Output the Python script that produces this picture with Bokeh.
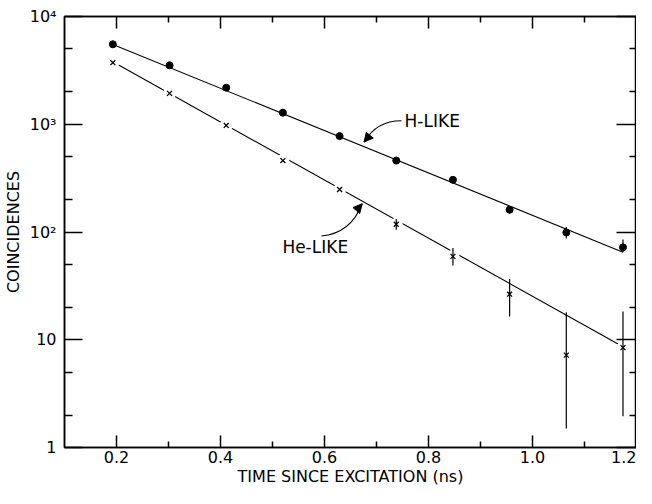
from bokeh.plotting import figure
from bokeh.models import Range1d, FixedTicker, LinearAxis, LogAxis, Arrow, NormalHead, Label
from bokeh.models.labeling import CustomLabelingPolicy
from bokeh.embed import file_html
from bokeh.resources import INLINE

# ---- data ----
time_ns = [0.193, 0.302, 0.411, 0.520, 0.629, 0.738, 0.847, 0.956, 1.065, 1.174]
h_like = [5520, 3525, 2185, 1280, 776, 460, 305, 161, 99, 72]
he_like = [3730, 1935, 975, 460, 248, 118, 59.4, 26.5, 7.2, 8.45]

h_err_t = [0.956, 1.065, 1.174]
h_err_lo = [148, 87, 65]
h_err_hi = [173, 111, 85]

he_err_t = [0.738, 0.847, 0.956, 1.065, 1.174]
he_err_lo = [105, 49, 16.4, 1.5, 1.95]
he_err_hi = [132, 71, 36.6, 18, 18.3]

fit_t = [0.193, 1.174]
h_fit = [5500, 65]
he_fit = [3800, 8.6]

x_ticks = [0.2, 0.4, 0.6, 0.8, 1.0, 1.2]
x_tick_labels = ["0.2", "0.4", "0.6", "0.8", "1.0", "1.2"]
x_minor = [0.3, 0.5, 0.7, 0.9, 1.1]
y_ticks = [1, 10, 100, 1000, 10000]
y_tick_labels = ["1", "10", "10²", "10³", "10⁴"]
y_minor = [2, 5, 20, 50, 200, 500, 2000, 5000]

x_title = "TIME SINCE EXCITATION (ns)"
y_title = "COINCIDENCES"

FONT = "DejaVu Sans"

p = figure(width=636, height=488, x_range=Range1d(0.1, 1.2), y_range=Range1d(1, 1e4),
           y_axis_type="log", output_backend="svg", toolbar_location=None,
           min_border_left=55, min_border_right=0, min_border_top=16, min_border_bottom=0)
p.grid.visible = False
p.outline_line_color = "black"
p.outline_line_width = 1.5
p.background_fill_color = "white"
p.border_fill_color = "white"

xa = p.xaxis[0]
xa.ticker = FixedTicker(ticks=x_ticks, minor_ticks=x_minor)
xa.major_label_overrides = dict(zip(x_ticks, x_tick_labels))
xa.axis_label = x_title
ya = p.yaxis[0]
ya.ticker = FixedTicker(ticks=y_ticks, minor_ticks=y_minor)
ya.major_label_overrides = dict(zip(y_ticks, y_tick_labels))
ya.axis_label = y_title

for ax, mj, mn in ((xa, 12, 6), (ya, 18, 8)):
    ax.major_tick_in = mj
    ax.major_tick_out = 0
    ax.minor_tick_in = mn
    ax.minor_tick_out = 0
    ax.major_tick_line_width = 1.5
    ax.minor_tick_line_width = 1.5
    ax.axis_line_width = 1.5
    ax.major_label_text_font = FONT
    ax.major_label_text_font_size = "16px"
    ax.major_label_text_color = "black"
    ax.axis_label_text_font = FONT
    ax.axis_label_text_font_size = "16px"
    ax.axis_label_text_font_style = "normal"
    ax.axis_label_text_color = "black"
xa.major_label_standoff = 3
xa.axis_label_standoff = 1
ya.major_label_standoff = 8
ya.axis_label_standoff = 4

hide_all = "for (let i = 0; i < indices.size; i++) { indices.set(i, false) }\nreturn indices"

top = LinearAxis(ticker=FixedTicker(ticks=x_ticks, minor_ticks=x_minor),
                 major_tick_in=12, major_tick_out=0, minor_tick_in=6, minor_tick_out=0,
                 major_tick_line_width=1.5, minor_tick_line_width=1.5, axis_line_width=1.5,
                 major_label_text_font_size="1px", major_label_text_color=None,
                 major_label_standoff=0,
                 major_label_policy=CustomLabelingPolicy(code=hide_all))
right = LogAxis(ticker=FixedTicker(ticks=y_ticks, minor_ticks=y_minor),
                major_tick_in=20, major_tick_out=0, minor_tick_in=7, minor_tick_out=0,
                major_tick_line_width=1.5, minor_tick_line_width=1.5, axis_line_width=1.5,
                major_label_text_font_size="1px", major_label_text_color=None,
                major_label_standoff=-4,
                major_label_policy=CustomLabelingPolicy(code=hide_all))
p.add_layout(top, "above")
p.add_layout(right, "right")

# fitted lines
p.line(fit_t, h_fit, line_color="black", line_width=1.1)
p.line(fit_t, he_fit, line_color="black", line_width=1.1)

# white gaps around crosses
p.scatter(time_ns, he_like, marker="circle", size=13, fill_color="white", line_color=None)

# error bars
p.segment(x0=h_err_t, y0=h_err_lo, x1=h_err_t, y1=h_err_hi, line_color="black", line_width=1.2)
p.segment(x0=he_err_t, y0=he_err_lo, x1=he_err_t, y1=he_err_hi, line_color="black", line_width=1.2)

# markers
p.scatter(time_ns, h_like, marker="circle", size=7, fill_color="black", line_color="black")
p.scatter(time_ns, he_like, marker="x", size=7, line_color="black", line_width=1.3)

# annotations
p.add_layout(Label(x=0.754, y=1078, text="H-LIKE", text_font=FONT, text_font_size="17px",
                   text_baseline="middle", text_align="left", text_color="black"))
p.add_layout(Label(x=0.519, y=72.5, text="He-LIKE", text_font=FONT, text_font_size="17px",
                   text_baseline="middle", text_align="left", text_color="black"))

p.quadratic(x0=[0.748], y0=[1078], x1=[0.676], y1=[683], cx=[0.700], cy=[1078],
            line_color="black", line_width=1.1)
p.add_layout(Arrow(end=NormalHead(size=9, fill_color="black", line_color="black"),
                   x_start=0.684, y_start=760, x_end=0.676, y_end=683,
                   line_color="black", line_width=1.1))
p.quadratic(x0=[0.594], y0=[91.8], x1=[0.6726], y1=[183], cx=[0.650], cy=[97],
            line_color="black", line_width=1.1)
p.add_layout(Arrow(end=NormalHead(size=9, fill_color="black", line_color="black"),
                   x_start=0.662, y_start=160, x_end=0.6726, y_end=183,
                   line_color="black", line_width=1.1))

open("out.html", "w").write(file_html(p, INLINE))
